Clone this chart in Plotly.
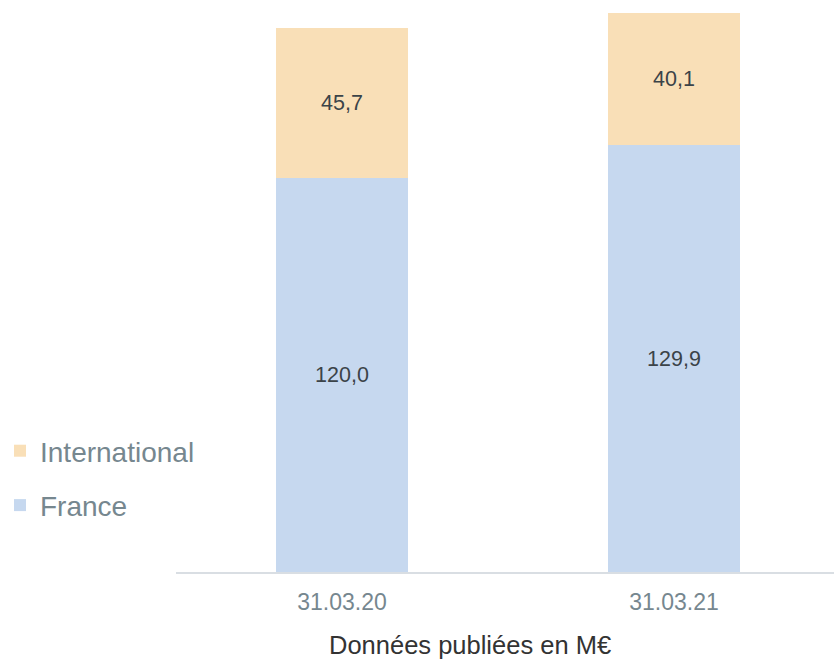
import plotly.graph_objects as go

categories = ["31.03.20", "31.03.21"]
france = [120.0, 129.9]
international = [45.7, 40.1]
france_labels = ["120,0", "129,9"]
international_labels = ["45,7", "40,1"]

FONT = "Liberation Sans, Arial, sans-serif"

fig = go.Figure()
fig.add_trace(go.Bar(
    x=categories, y=france, name="France",
    marker=dict(color="#c6d8ef", line=dict(width=0)),
    text=france_labels, textposition="inside", insidetextanchor="middle",
    textfont=dict(family=FONT, size=21.5, color="#3b4348"),
    legendgroup="fr", legendrank=2, hoverinfo="skip", width=0.4,
))
fig.add_trace(go.Bar(
    x=categories, y=international, name="International",
    marker=dict(color="#f9dfb7", line=dict(width=0)),
    text=international_labels, textposition="inside", insidetextanchor="middle",
    textfont=dict(family=FONT, size=21.5, color="#3b4348"),
    legendgroup="intl", legendrank=1, hoverinfo="skip", width=0.4,
))

fig.update_layout(
    width=834, height=661,
    barmode="stack",
    plot_bgcolor="white", paper_bgcolor="white",
    margin=dict(l=176, r=0, t=0, b=89),
    font=dict(family=FONT),
    showlegend=True,
    legend=dict(
        xref="paper", yref="paper",
        x=-176 / 658, y=(572 - 478) / 572, xanchor="left", yanchor="middle",
        traceorder="grouped", tracegroupgap=15,
        font=dict(family=FONT, size=28, color="#76878f"),
        itemwidth=30, bgcolor="rgba(0,0,0,0)",
    ),
    xaxis=dict(
        type="category", range=[-0.5, 1.482],
        showline=True, linecolor="#d9dee3", linewidth=2,
        showgrid=False, ticks="", zeroline=False, ticklabelstandoff=8,
        tickfont=dict(family=FONT, size=23, color="#76878f"),
    ),
    yaxis=dict(
        range=[0, 174.1], visible=False, showgrid=False, zeroline=False,
    ),
    annotations=[dict(
        text="Données publiées en M€", xref="paper", yref="paper",
        x=(470 - 176) / 658, y=(572 - 645) / 572, xanchor="center", yanchor="middle",
        showarrow=False, font=dict(family=FONT, size=25.5, color="#333333"),
    )],
)

fig.write_html(
    "out.html",
    config={"displayModeBar": False},
    post_script="document.body.style.margin='0px';",
)
